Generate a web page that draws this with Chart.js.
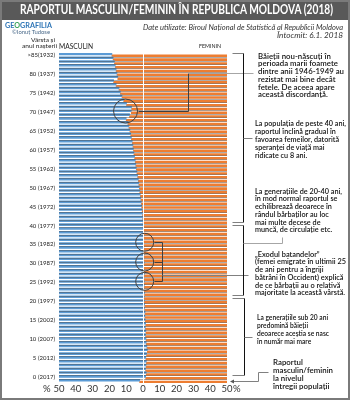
<!DOCTYPE html>
<html><head><meta charset="utf-8">
<script src="https://cdn.jsdelivr.net/npm/chart.js@4/dist/chart.umd.min.js"></script>
<style>
html,body{margin:0;padding:0;background:#fff;}
#wrap{position:relative;width:350px;height:400px;overflow:hidden;font-family:Lato,'Open Sans',sans-serif;}
#bar{position:absolute;left:0;top:0;width:350px;height:20px;background:#595959;}
#frame{position:absolute;left:0;top:0;width:350px;height:400px;box-sizing:border-box;border:2px solid #7a7a7a;pointer-events:none;}
canvas{position:absolute;left:0;top:0;}
.t{position:absolute;white-space:nowrap;transform-origin:0 0;}
.ann{font-size:7px;line-height:7.8px;color:#111;font-weight:600;}
</style></head>
<body><div id="wrap">
<div id="bar"></div>
<canvas id="c" width="350" height="400"></canvas>
<div class="t fit" data-w="313" style="left:20px;top:0;font-size:12.5px;line-height:20px;font-weight:bold;color:#fff">RAPORTUL MASCULIN/FEMININ ÎN REPUBLICA MOLDOVA (2018)</div>
<div class="t fit" data-w="47" style="left:5px;top:21px;font-size:7px;line-height:8px;font-weight:bold;color:#2e75b6">GE<span style="color:#3aa35b">O</span>GRAFILIA</div>
<div class="t fit" data-w="38" style="left:12px;top:28px;font-size:6px;line-height:7px;color:#4a6a8a">©Ionuț Tudose</div>
<div class="t fit" data-w="200" style="left:143px;top:23px;font-size:7px;line-height:8px;font-style:italic;color:#333">Date utilizate: Biroul Național de Statistică al Republicii Moldova</div>
<div class="t fit" data-w="66" style="left:277px;top:31px;font-size:7px;line-height:8px;font-style:italic;color:#333">Întocmit: 6.1. 2018</div>
<div class="t fit" data-w="24" style="left:31px;top:37px;font-size:6px;line-height:6px;color:#222">Vârsta și</div>
<div class="t fit" data-w="35" style="left:22px;top:43px;font-size:6px;line-height:6px;color:#222">anul nașterii</div>
<div class="t fit" data-w="34" style="left:59px;top:42px;font-size:8px;line-height:8px;color:#222">MASCULIN</div>
<div class="t fit" data-w="22" style="left:199px;top:42px;font-size:6.5px;line-height:8px;color:#222">FEMININ</div>
<div class="t" style="left:43px;top:383px;font-size:9.5px;line-height:11px;color:#333">%</div>
<div class="t" style="left:233px;top:383px;font-size:9.5px;line-height:11px;color:#333">%</div>
<div class="t fit ann" data-w="86" style="left:258px;top:52.5px">Băieții nou-născuți în<br>perioada marii foamete<br>dintre anii 1946-1949 au<br>rezistat mai bine decât<br>fetele. De aceea apare<br>această discordanță.</div>
<div class="t fit ann" data-w="91" style="left:255px;top:118.5px;line-height:8px">La populația de peste 40 ani,<br>raportul înclină gradual în<br>favoarea femeilor, datorită<br>speranței de viață mai<br>ridicate cu 8 ani.</div>
<div class="t fit ann" data-w="87" style="left:255px;top:187.5px">La generațiile de 20-40 ani,<br>în mod normal raportul se<br>echilibrează deoarece în<br>rândul bărbaților au loc<br>mai multe decese de<br>muncă, de circulație etc.</div>
<div class="t fit ann" data-w="91" style="left:255px;top:250.5px">„Exodul batandelor”<br>(femei emigrate în ultimii 25<br>de ani pentru a îngriji<br>bătrâni în Occident) explică<br>de ce bărbații au o relativă<br>majoritate la această vârstă.</div>
<div class="t fit ann" data-w="72" style="left:257px;top:312.5px;line-height:8px">La generațiile sub 20 ani<br>predomină băieții<br>deoarece aceștia se nasc<br>în număr mai mare</div>
<div class="t fit ann" data-w="60" style="left:273px;top:357.5px;line-height:8px">Raportul<br>masculin/feminin<br>la nivelul<br>întregii populații</div>
<div id="frame"></div>
</div>
<script>
// Categories, top to bottom (age, birth year); last row = whole population
const categories = ['>85(1932)','84 (1933)','83 (1934)','82 (1935)','81 (1936)','80 (1937)','79 (1938)','78 (1939)','77 (1940)','76 (1941)',
'75 (1942)','74 (1943)','73 (1944)','72 (1945)','71 (1946)','70 (1947)','69 (1948)','68 (1949)','67 (1950)','66 (1951)',
'65 (1952)','64 (1953)','63 (1954)','62 (1955)','61 (1956)','60 (1957)','59 (1958)','58 (1959)','57 (1960)','56 (1961)',
'55 (1962)','54 (1963)','53 (1964)','52 (1965)','51 (1966)','50 (1967)','49 (1968)','48 (1969)','47 (1970)','46 (1971)',
'45 (1972)','44 (1973)','43 (1974)','42 (1975)','41 (1976)','40 (1977)','39 (1978)','38 (1979)','37 (1980)','36 (1981)',
'35 (1982)','34 (1983)','33 (1984)','32 (1985)','31 (1986)','30 (1987)','29 (1988)','28 (1989)','27 (1990)','26 (1991)',
'25 (1992)','24 (1993)','23 (1994)','22 (1995)','21 (1996)','20 (1997)','19 (1998)','18 (1999)','17 (2000)','16 (2001)',
'15 (2002)','14 (2003)','13 (2004)','12 (2005)','11 (2006)','10 (2007)','9 (2008)','8 (2009)','7 (2010)','6 (2011)',
'5 (2012)','4 (2013)','3 (2014)','2 (2015)','1 (2016)','0 (2017)','Total'];
// Tick labels actually shown on the age axis
const shownLabels = ['>85(1932)','80 (1937)','75 (1942)','70 (1947)','65 (1952)','60 (1957)','55 (1962)','50 (1967)','45 (1972)',
'40 (1977)','35 (1982)','30 (1987)','25 (1992)','20 (1997)','15 (2002)','10 (2007)','5 (2012)','0 (2017)'];
// Male share (%) of each row, same order as categories
const malePct = [31.5,32.2,33.0,33.5,34.0,34.5,35.0,32.5,34.0,35.7,
36.5,37.5,38.5,40.2,43.2,43.0,42.0,40.0,41.0,41.6,
42.2,42.7,43.1,43.6,44.0,44.3,44.6,45.0,45.4,45.7,
46.0,46.4,46.8,47.2,47.5,47.8,48.1,48.4,48.7,49.0,
49.2,49.5,49.7,49.8,50.0,50.1,50.3,50.2,50.5,50.3,
50.4,50.5,50.3,50.6,50.5,50.7,50.4,50.6,50.8,50.5,
50.7,50.8,50.6,50.9,50.7,50.8,51.0,50.9,51.2,51.1,
51.3,51.6,51.4,51.7,51.5,51.8,51.9,52.3,52.6,52.1,
51.7,52.0,51.8,51.5,51.9,51.6,48.0];
const xTicks = [-50,-40,-30,-20,-10,0,10,20,30,40,50];

const maleBars = malePct.map(m => [-50, m - 50]);
const femaleBars = malePct.map(m => [m - 50, 50]);

const deco = {
  id:'deco',
  afterDatasetsDraw(ch){
    const a = ch.chartArea, c = ch.ctx, xs = ch.scales.x, ys = ch.scales.y;
    const Y = i => ys.getPixelForValue(i);
    const R = a.right;
    const line = (pts, col, w) => { c.beginPath(); c.strokeStyle = col; c.lineWidth = w||1;
      pts.forEach((p,k)=>{ const px=Math.round(p[0])+0.5, py=Math.round(p[1])+0.5; k?c.lineTo(px,py):c.moveTo(px,py); }); c.stroke(); };
    c.save();
    // row separators (bar borders)
    c.fillStyle = 'rgba(70,70,70,0.45)';
    for (let i = 0; i < categories.length - 1; i++) {
      const y = Math.round(Y(i + 0.5));
      c.fillRect(a.left, y, a.right - a.left, 1);
    }
    const x0 = xs.getPixelForValue(0);
    line([[x0,a.top],[x0,a.bottom]], '#ffffff', 1);
    const c1x = xs.getPixelForValue(-10.4), c1y = Y(14.8);
    c.beginPath(); c.strokeStyle='#404040'; c.lineWidth=1; c.arc(c1x,c1y,12,0,Math.PI*2); c.stroke();
    line([[c1x+12,c1y],[a.left+129,c1y],[a.left+129,Y(4.8)]], '#404040');
    line([[a.left+129,Y(4.8)],[R+26,Y(4.8)]], '#a6a6a6');
    const cx = xs.getPixelForValue(1.0);
    [49.4,54.6,59.7].forEach(i=>{ const cy=Y(i); c.beginPath(); c.strokeStyle='#404040'; c.arc(cx,cy,9,0,Math.PI*2); c.stroke();
      line([[cx+9,cy],[cx+17,cy]], '#404040'); });
    line([[cx+17,Y(49.4)],[cx+17,Y(59.7)]], '#404040');
    line([[cx+17,Y(58.1)],[R+21,Y(58.1)]], '#808080');
    line([[R+5,Y(-0.5)],[R+16,Y(-0.5)]], '#808080');
    line([[R+16,Y(-0.5)],[R+16,Y(44.1)]], '#111');
    line([[R+5,Y(44.1)],[R+16,Y(44.1)]], '#808080');
    line([[R+16,Y(21.9)],[R+25,Y(21.9)]], '#808080');
    line([[R+5,Y(44.9)],[R+16,Y(44.9)]], '#808080');
    line([[R+16,Y(44.9)],[R+16,Y(63.4)]], '#111');
    line([[R+5,Y(63.4)],[R+16,Y(63.4)]], '#808080');
    line([[R+16,Y(49.6)],[R+55,Y(49.6)],[R+55,Y(48.0)]], '#a6a6a6');
    line([[R+5,Y(64.1)],[R+17,Y(64.1)]], '#808080');
    line([[R+17,Y(64.1)],[R+17,Y(84.5)]], '#111');
    line([[R+5,Y(84.5)],[R+17,Y(84.5)]], '#808080');
    line([[R+17,Y(74.4)],[R+25,Y(74.4)]], '#808080');
    const ty = Y(86);
    line([[R+6,ty],[R+31,ty],[R+31,Y(83.7)],[R+41,Y(83.7)]], '#808080');
    c.beginPath(); c.fillStyle='#555'; c.moveTo(R+3,Math.round(ty)+0.5); c.lineTo(R+7,Math.round(ty)-1.5); c.lineTo(R+7,Math.round(ty)+2.5); c.closePath(); c.fill();
    c.restore();
  }
};

new Chart(document.getElementById('c'), {
  type:'bar',
  data:{ labels:categories, datasets:[
    {label:'MASCULIN', data:maleBars, backgroundColor:'#5b9bd5', borderWidth:0, barPercentage:1, categoryPercentage:1},
    {label:'FEMININ', data:femaleBars, backgroundColor:'#ed7d31', borderWidth:0, barPercentage:1, categoryPercentage:1}
  ]},
  options:{
    indexAxis:'y', responsive:false, animation:false, devicePixelRatio:1,
    layout:{padding:{top:53,right:123,bottom:0,left:0}},
    plugins:{legend:{display:false}, tooltip:{enabled:false}},
    scales:{
      x:{type:'linear', min:-50, max:50, afterBuildTicks:s=>{ s.ticks = xTicks.map(v=>({value:v})); },
         ticks:{callback:v=>Math.abs(v), font:{family:'Lato', size:9.5}, color:'#333', padding:0, maxRotation:0},
         grid:{display:false, drawTicks:false}, border:{display:false},
         afterFit:s=>{ s.height = 17; }},
      y:{type:'category', ticks:{autoSkip:false, callback:function(v,i){ const l=categories[i]; return shownLabels.includes(l)?l:''; },
         font:{family:'Lato', size:6}, color:'#222', padding:4},
         grid:{display:false, drawTicks:false}, border:{display:false},
         afterFit:s=>{ s.width = 59; }}
    }
  },
  plugins:[deco]
});

function fit(){
  document.querySelectorAll('.fit').forEach(el=>{
    el.style.transform='none';
    const w = el.getBoundingClientRect().width;
    const t = parseFloat(el.dataset.w);
    if (w>0) el.style.transform = 'scaleX(' + (t/w) + ')';
  });
}
fit();
if (document.fonts && document.fonts.ready) document.fonts.ready.then(fit);
</script>
</body></html>
